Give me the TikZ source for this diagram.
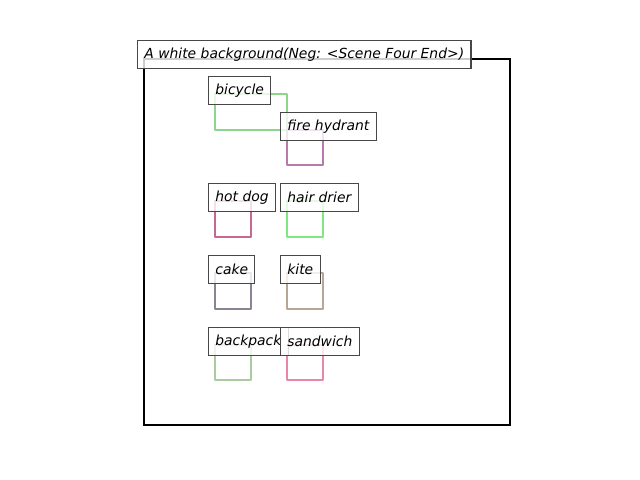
\documentclass[tikz,border=0pt]{standalone}
\usepackage{fontspec}
\setmainfont{DejaVu Sans}
\definecolor{bicyclecol}{RGB}{140,214,140}
\definecolor{hydrantcol}{RGB}{184,122,170}
\definecolor{hotdogcol}{RGB}{200,104,144}
\definecolor{driercol}{RGB}{128,232,128}
\definecolor{cakecol}{RGB}{140,130,150}
\definecolor{kitecol}{RGB}{182,166,150}
\definecolor{backpackcol}{RGB}{170,202,160}
\definecolor{sandwichcol}{RGB}{232,134,172}
\begin{document}
\begin{tikzpicture}[
        x=0.72pt, y=-0.72pt,
        every node/.style={font=\fontsize{10}{12}\selectfont\itshape},
        labelbox/.style={draw=black!72, line width=0.8pt, fill=white, fill opacity=0.8, text opacity=1,
            anchor=north west, inner xsep=4.9pt, inner ysep=0pt, minimum height=20pt},
        objbox/.style={line width=1.9pt, line join=round}
    ]
        \useasboundingbox (0,0) rectangle (640,480);

        % Khung cảnh
        \draw[line width=1.7pt] (144,59) rectangle (510,425);

        % Các hộp đối tượng
        \draw[objbox, bicyclecol] (215,94) rectangle (287,130);
        \draw[objbox, hydrantcol] (287,130) rectangle (323,165);
        \draw[objbox, hotdogcol] (215,201) rectangle (251,237);
        \draw[objbox, driercol] (287,201) rectangle (323,237);
        \draw[objbox, cakecol] (215,273) rectangle (251,309);
        \draw[objbox, kitecol] (287,273) rectangle (323,309);
        \draw[objbox, backpackcol] (215,345) rectangle (251,380);
        \draw[objbox, sandwichcol] (287,345) rectangle (323,380);

        % Nhãn
        \node[labelbox] (scene) at (137,40) {A white background(Neg: <Scene Four End>)};
        \node[labelbox] (bicycle) at (208,76) {bicycle};
        \node[labelbox] (hydrant) at (280,112) {fire hydrant};
        \node[labelbox] (hotdog) at (208,183) {hot dog};
        \node[labelbox] (drier) at (280,183) {hair drier};
        \node[labelbox] (cake) at (208,255) {cake};
        \node[labelbox] (kite) at (280,255) {kite};
        \node[labelbox] (backpack) at (208,327) {backpack};
        \node[labelbox] (sandwich) at (280,327) {sandwich};
    \end{tikzpicture}
\end{document}
